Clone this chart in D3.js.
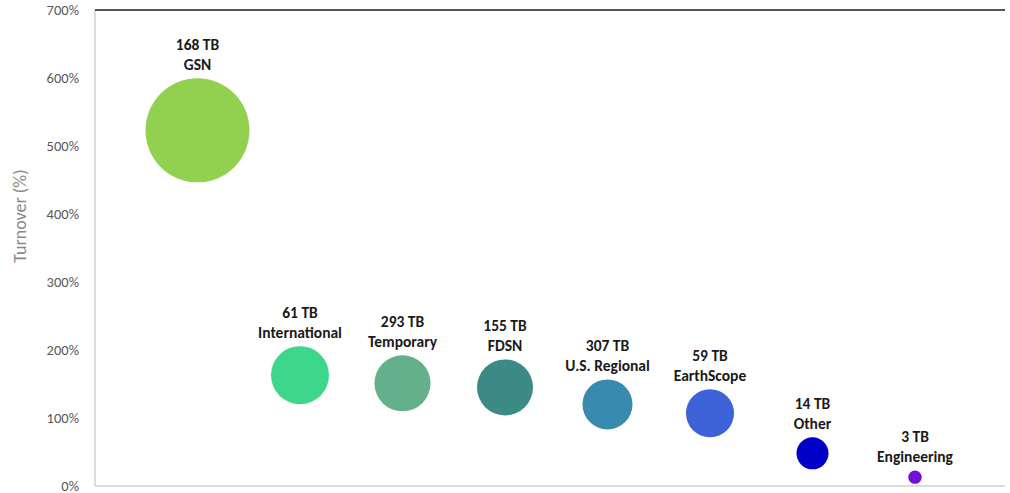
<!DOCTYPE html>
<html>
<head>
<meta charset="utf-8">
<script src="https://cdn.jsdelivr.net/npm/d3@7"></script>
<style>
  body { margin: 0; background: #fff; }
  text { font-family: Carlito, Lato, "Open Sans", sans-serif; }
</style>
</head>
<body>
<svg id="chart" width="1010" height="493"></svg>
<script>
const names = ['GSN', 'International', 'Temporary', 'FDSN', 'U.S. Regional', 'EarthScope', 'Other', 'Engineering'];
const volumes = ['168 TB', '61 TB', '293 TB', '155 TB', '307 TB', '59 TB', '14 TB', '3 TB'];
const turnover = [523, 163, 151, 145, 120, 107, 48, 13];
const bubbleSize = [2700, 840, 784, 784, 625, 576, 256, 45];
const colors = ['#92d050', '#3dd68a', '#63b08a', '#3c8a86', '#3a8ab0', '#3e62d8', '#0000c8', '#7010d8'];
const yTicks = [0, 100, 200, 300, 400, 500, 600, 700];

const svg = d3.select('#chart');
const mLeft = 95;
const mRight = 1005;
const mTop = 10;
const mBottom = 486;

const x = d3.scaleLinear().domain([0, 9]).range([mLeft, mLeft + 9 * 102.5]);
const y = d3.scaleLinear().domain([0, 700]).range([mBottom, mTop]);
const r = d3.scaleSqrt().domain([0, 2700]).range([0, 52]);

// axis frame
svg.append('line')
  .attr('x1', mLeft).attr('x2', mLeft)
  .attr('y1', mTop).attr('y2', mBottom)
  .attr('stroke', '#d0d0d0').attr('stroke-width', 1.5);
svg.append('line')
  .attr('x1', mLeft).attr('x2', mRight)
  .attr('y1', mBottom).attr('y2', mBottom)
  .attr('stroke', '#d0d0d0').attr('stroke-width', 1.5);
svg.append('line')
  .attr('x1', mLeft).attr('x2', mRight)
  .attr('y1', mTop).attr('y2', mTop)
  .attr('stroke', '#555').attr('stroke-width', 2);

const yAxis = svg.append('g')
  .attr('transform', `translate(${mLeft},0)`)
  .call(d3.axisLeft(y).tickValues(yTicks).tickSize(0).tickPadding(16).tickFormat((d) => `${d}%`));
yAxis.select('.domain').remove();
yAxis.selectAll('text')
  .attr('fill', '#595959')
  .attr('dy', '0.3em')
  .style('font-size', '14.5px');

svg.append('text')
  .attr('transform', 'translate(26,216) rotate(-90)')
  .attr('text-anchor', 'middle')
  .attr('fill', '#8a8a8a')
  .style('font-size', '18px')
  .style('font-weight', '300')
  .text('Turnover (%)');

const data = names.map((n, i) => ({
  name: n, vol: volumes[i], val: turnover[i], size: bubbleSize[i], color: colors[i], i: i + 1,
}));

svg.selectAll('circle.bubble')
  .data(data)
  .enter()
  .append('circle')
  .attr('class', 'bubble')
  .attr('cx', (d) => x(d.i))
  .attr('cy', (d) => y(d.val))
  .attr('r', (d) => r(d.size))
  .attr('fill', (d) => d.color);

const lbl = svg.selectAll('g.lbl')
  .data(data)
  .enter()
  .append('g')
  .attr('class', 'lbl')
  .attr('transform', (d) => `translate(${x(d.i)},${y(d.val) - r(d.size) - 8})`);

lbl.append('text')
  .attr('text-anchor', 'middle')
  .attr('y', -20)
  .attr('fill', '#1a1a1a')
  .style('font-size', '15.5px')
  .style('font-weight', 'bold')
  .text((d) => d.vol);

lbl.append('text')
  .attr('text-anchor', 'middle')
  .attr('y', 0)
  .attr('fill', '#1a1a1a')
  .style('font-size', '15.5px')
  .style('font-weight', 'bold')
  .text((d) => d.name);
</script>
</body>
</html>
